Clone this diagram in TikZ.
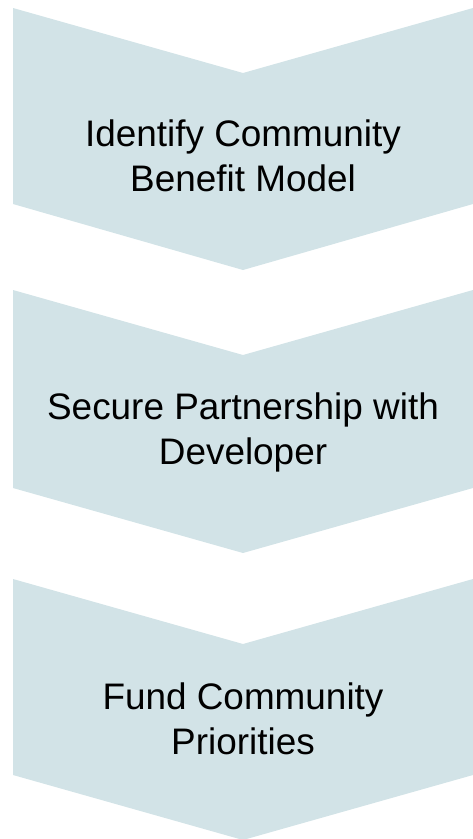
\documentclass[tikz,border=0pt]{standalone}
\usepackage{fontspec}
\setmainfont{Liberation Sans}
\definecolor{chevfill}{RGB}{210,227,231}
\begin{document}
\begin{tikzpicture}[x=1pt,y=-1pt,
  chev/.style={fill=chevfill,draw=none},
  lbl/.style={font=\fontsize{36.9}{44.2}\selectfont, align=center, inner sep=0pt, text=black, anchor=base}]
\useasboundingbox (0,0) rectangle (473,839);
% chevrons
\fill[chev] (13,8) -- (243,73) -- (473,8) -- (473,204) -- (243,270) -- (13,204) -- cycle;
\fill[chev] (13,290) -- (243,355) -- (473,290) -- (473,488) -- (243,553) -- (13,488) -- cycle;
\fill[chev] (13,579) -- (243,644) -- (473,579) -- (473,775) -- (243,840) -- (13,775) -- cycle;
% labels (base anchor = baseline of the last line)
\node[lbl] (s1) at (243,191) {Identify Community\\Benefit Model};
\node[lbl] (s2) at (243,464) {Secure Partnership with\\Developer};
\node[lbl] (s3) at (243,754) {Fund Community\\Priorities};
\end{tikzpicture}
\end{document}
